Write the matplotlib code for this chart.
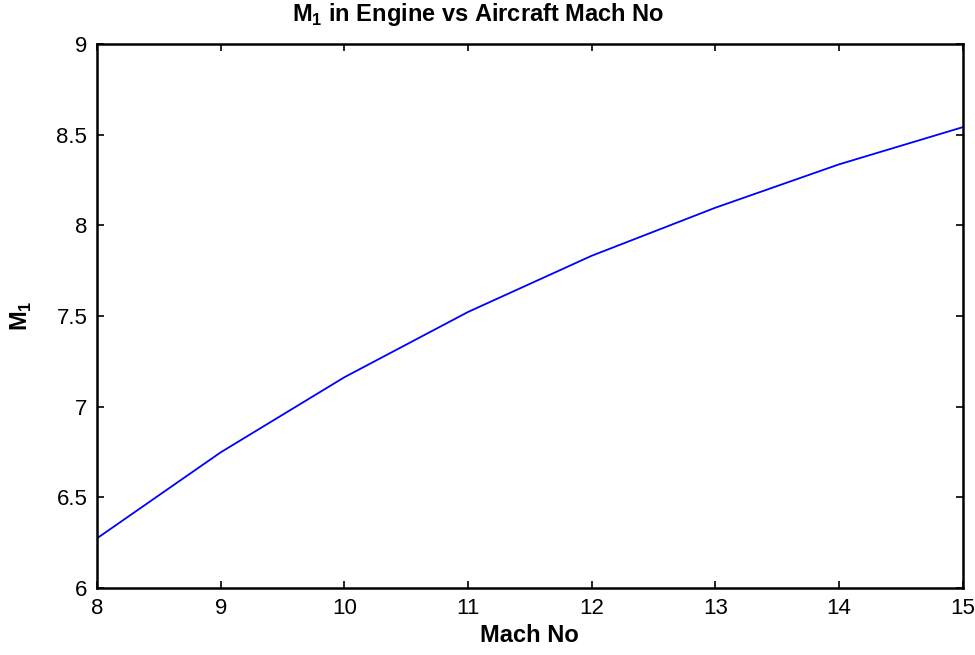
import matplotlib
matplotlib.use("Agg")
import matplotlib.pyplot as plt

# Aircraft Mach number and inlet Mach number M1
mach_no = [8, 9, 10, 11, 12, 13, 14, 15]
m1 = [6.274, 6.748, 7.162, 7.522, 7.832, 8.097, 8.336, 8.541]

x_ticks = [8, 9, 10, 11, 12, 13, 14, 15]
y_ticks = [6, 6.5, 7, 7.5, 8, 8.5, 9]
y_tick_labels = ["6", "6.5", "7", "7.5", "8", "8.5", "9"]

plt.rcParams['font.family'] = ['Liberation Sans', 'DejaVu Sans']
plt.rcParams['mathtext.fontset'] = 'custom'
plt.rcParams['mathtext.bf'] = 'Liberation Sans:bold'
plt.rcParams['mathtext.rm'] = 'Liberation Sans'

fig = plt.figure(figsize=(9.75, 6.55), dpi=100)
ax = fig.add_axes([0.0995, 0.1023, 0.8877, 0.8305])

ax.plot(mach_no, m1, color='blue', linewidth=1.3)

ax.set_xlim(8, 15)
ax.set_ylim(6, 9)
ax.set_xticks(x_ticks)
ax.set_yticks(y_ticks)
ax.set_yticklabels(y_tick_labels)

ax.tick_params(direction='in', top=True, right=True, length=5, width=1.2,
               labelsize=16, pad=7)
for s in ax.spines.values():
    s.set_linewidth(1.8)

fig.suptitle(r"M$_\mathbf{1}$ in Engine vs Aircraft Mach No",
             x=0.49, y=1 - 14 / 655, va='center',
             fontsize=17, fontweight='bold')
ax.set_xlabel("Mach No", fontsize=17, fontweight='bold', labelpad=4)
ax.set_ylabel(r"M$_\mathbf{1}$", fontsize=17, fontweight='bold', labelpad=16)

fig.savefig("out.png", dpi=100)
